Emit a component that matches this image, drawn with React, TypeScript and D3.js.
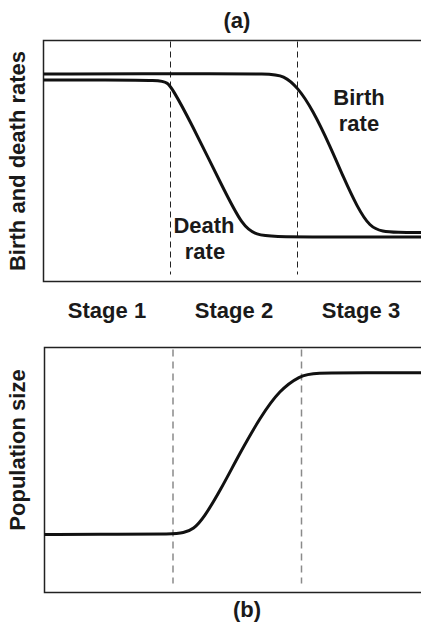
import React from "react";
import * as d3 from "d3";

// Demographic transition: stage boundaries sit at integer positions on a 0..3 stage axis.
const stageLabels = ["Stage 1", "Stage 2", "Stage 3"];
const stageBoundaries = [1, 2];

// Birth rate (relative units, 0..1) against position along the stages.
const birthStage = [0, 1.3, 1.78, 1.89, 2.0, 2.12, 2.26, 2.36, 2.47, 2.57, 2.67, 2.78, 2.98];
const birthRate = [0.861, 0.862, 0.862, 0.855, 0.807, 0.712, 0.558, 0.434, 0.309, 0.226, 0.207, 0.204, 0.203];

// Death rate (relative units, 0..1).
const deathStage = [0, 0.5, 0.92, 0.975, 1.02, 1.15, 1.41, 1.57, 1.68, 1.8, 2.2, 2.98];
const deathRate = [0.836, 0.836, 0.835, 0.826, 0.795, 0.671, 0.392, 0.226, 0.193, 0.186, 0.185, 0.185];

// Population size (relative units, 0..1).
const popStage = [0, 0.6, 1.0, 1.08, 1.16, 1.24, 1.37, 1.52, 1.68, 1.83, 1.99, 2.09, 2.5, 2.93];
const popSize = [0.237, 0.238, 0.238, 0.243, 0.258, 0.305, 0.418, 0.569, 0.716, 0.827, 0.885, 0.897, 0.897, 0.897];

const W = 421;
const H = 623;
const FONT = "'Liberation Sans', Arial, Helvetica, sans-serif";

type Pt = [number, number];
const zip = (xs: number[], ys: number[]): Pt[] => xs.map((x, i) => [x, ys[i]]);

export default function App() {
  // Panel (a): birth and death rates
  const xa = d3.scaleLinear().domain([0, 3]).range([43.5, 424.5]);
  const ya = d3.scaleLinear().domain([0, 1]).range([281.5, 40.5]);
  const lineA = d3
    .line<Pt>()
    .x((d) => xa(d[0]))
    .y((d) => ya(d[1]))
    .curve(d3.curveBasis);

  // Panel (b): population size
  const xb = d3.scaleLinear().domain([0, 3]).range([44.5, 430]);
  const yb = d3.scaleLinear().domain([0, 1]).range([592.5, 347.5]);
  const lineB = d3
    .line<Pt>()
    .x((d) => xb(d[0]))
    .y((d) => yb(d[1]))
    .curve(d3.curveBasis);

  const txt = { fontFamily: FONT, fontWeight: 700, fontSize: 22, fill: "#1a1a1a" } as const;

  return (
    <svg
      width={W}
      height={H}
      style={{ position: "absolute", left: 0, top: 0, background: "#fff" }}
    >
      {/* Panel (a) */}
      <text x={237} y={28} textAnchor="middle" {...txt}>
        (a)
      </text>
      {stageBoundaries.map((s) => (
        <line
          key={"da" + s}
          x1={xa(s)}
          x2={xa(s)}
          y1={ya(1) + 1}
          y2={ya(0) - 7}
          stroke="#222"
          strokeWidth={1}
          strokeDasharray="6,4"
        />
      ))}
      <path
        d={`M${W},${ya(1)}H${xa(0)}V${ya(0)}H${W}`}
        fill="none"
        stroke="#222"
        strokeWidth={1.5}
      />
      <path d={lineA(zip(birthStage, birthRate)) ?? ""} fill="none" stroke="#111" strokeWidth={3} />
      <path d={lineA(zip(deathStage, deathRate)) ?? ""} fill="none" stroke="#111" strokeWidth={3} />
      <text x={359} y={105} textAnchor="middle" {...txt}>
        Birth
      </text>
      <text x={359} y={131} textAnchor="middle" {...txt}>
        rate
      </text>
      <text x={204} y={233} textAnchor="middle" {...txt}>
        Death
      </text>
      <text x={205} y={259} textAnchor="middle" {...txt}>
        rate
      </text>
      <text
        transform={`translate(25,${(ya(0) + ya(1)) / 2}) rotate(-90)`}
        textAnchor="middle"
        {...txt}
      >
        Birth and death rates
      </text>

      {/* Stage labels */}
      {stageLabels.map((s, i) => (
        <text key={s} x={xa(i + 0.5)} y={318} textAnchor="middle" {...txt}>
          {s}
        </text>
      ))}

      {/* Panel (b) */}
      {stageBoundaries.map((s) => (
        <line
          key={"db" + s}
          x1={xb(s)}
          x2={xb(s)}
          y1={yb(1) + 2}
          y2={yb(0) - 9}
          stroke="#8a8a8a"
          strokeWidth={1.5}
          strokeDasharray="7,5"
        />
      ))}
      <path
        d={`M${W},${yb(1)}H${xb(0)}V${yb(0)}H${W}`}
        fill="none"
        stroke="#222"
        strokeWidth={1.5}
      />
      <path d={lineB(zip(popStage, popSize)) ?? ""} fill="none" stroke="#111" strokeWidth={3} />
      <text
        transform={`translate(25,450) rotate(-90)`}
        textAnchor="middle"
        {...txt}
      >
        Population size
      </text>
      <text x={247} y={617} textAnchor="middle" {...txt}>
        (b)
      </text>
    </svg>
  );
}
